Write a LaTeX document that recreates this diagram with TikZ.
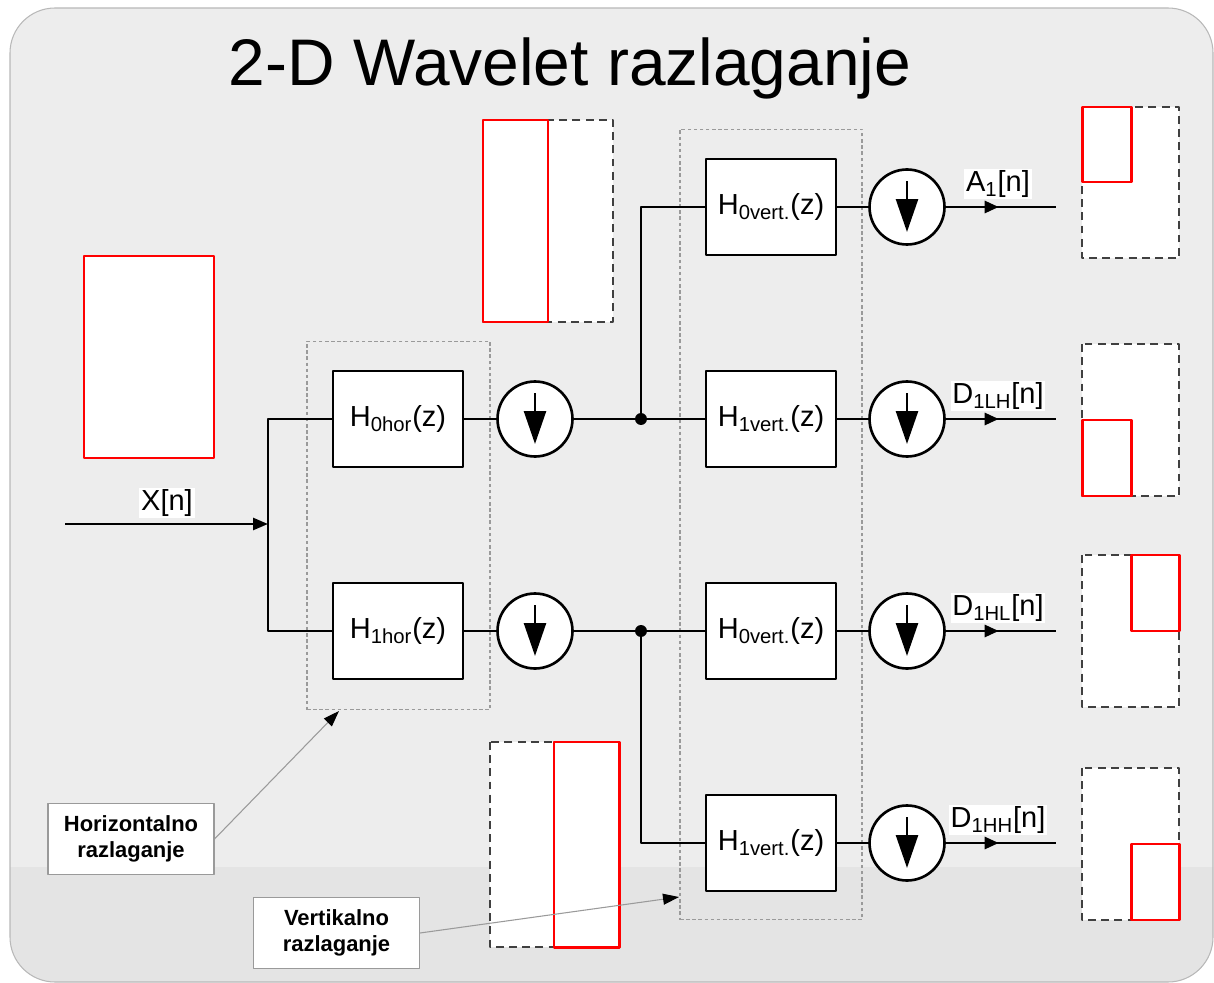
\documentclass[tikz,border=0pt]{standalone}
\usepackage{fontspec}
\setmainfont{Liberation Sans}
\usetikzlibrary{arrows.meta,decorations.markings}

\definecolor{panel}{HTML}{EDEDED}
\definecolor{panellow}{HTML}{E4E4E4}
\definecolor{rim}{HTML}{B8B8B8}
\definecolor{grpgray}{HTML}{9A9A9A}
\definecolor{dashgray}{HTML}{404040}

\begin{document}
\begin{tikzpicture}
	[
		x=0.02cm,
		y=-0.02cm,
		line join=round,
		sig/.style={line width=1.5pt},
		filt/.style={draw, line width=1.5pt, fill=white, minimum width=2.6cm, minimum height=1.92cm, font=\fontsize{16.5pt}{18pt}\selectfont},
		down/.style={draw, circle, line width=1.5pt, fill=white, minimum size=1.5cm,
			path picture={\draw[line width=1.5pt,-{Triangle[length=0.66cm,width=0.44cm]}] ([yshift=0.52cm]path picture bounding box.center) -- ([yshift=-0.5cm]path picture bounding box.center);}},
		grp/.style={draw=grpgray, dash pattern=on 2pt off 1.5pt, line width=0.6pt},
		lbl/.style={fill=white, inner sep=1pt, font=\fontsize{16.5pt}{18pt}\selectfont},
		note/.style={draw=grpgray, fill=white, line width=0.6pt, align=center, minimum width=3.32cm, minimum height=1.42cm, font=\fontsize{12.5pt}{15pt}\selectfont\bfseries},
		pointer/.style={draw=grpgray, line width=0.6pt, -{Triangle[length=0.32cm,width=0.22cm,color=black]}},
		imgdash/.style={draw=dashgray, dash pattern=on 4.5pt off 3pt, line width=1.4pt, fill=white},
		imgred/.style={draw=red, line width=1.7pt},
		midarr/.style={postaction={decorate}, decoration={markings, mark=at position 0.48 with {\arrow{Triangle[length=0.28cm,width=0.24cm]}}}}
	]
		\useasboundingbox (0,0) rectangle (1214,983);

		% panel
		\fill[panel] (10,8) [rounded corners=0.9cm] rectangle (1213,982);
		\begin{scope}
			\clip (10,8) [rounded corners=0.9cm] rectangle (1213,982);
			\fill[panellow] (0,867) rectangle (1214,983);
		\end{scope}
		\draw[rim, line width=0.6pt] (10,8) [rounded corners=0.9cm] rectangle (1213,982);

		\node[font=\fontsize{37.5pt}{40pt}\selectfont, anchor=base] (title) at (570,86) {2-D Wavelet razlaganje};

		% filter groups
		\node[grp, minimum width=3.66cm, minimum height=7.38cm] (grpH) at (398.5,525.5) {};
		\node[grp, minimum width=3.64cm, minimum height=15.82cm] (grpV) at (771,524.5) {};

		% input image
		\draw[imgred, fill=white] (84,256) rectangle (214,458);

		% filters
		\node[filt] (h0h) at (398,419) {H\textsubscript{0hor}(z)};
		\node[filt] (h1h) at (398,631) {H\textsubscript{1hor}(z)};
		\node[filt] (hv0a) at (771,207) {H\textsubscript{0vert.}(z)};
		\node[filt] (hv1a) at (771,419) {H\textsubscript{1vert.}(z)};
		\node[filt] (hv0b) at (771,631) {H\textsubscript{0vert.}(z)};
		\node[filt] (hv1b) at (771,843) {H\textsubscript{1vert.}(z)};

		% downsamplers
		\node[down] (dh0) at (535,419) {};
		\node[down] (dh1) at (535,631) {};
		\node[down] (dv0a) at (907,207) {};
		\node[down] (dv1a) at (907,419) {};
		\node[down] (dv0b) at (907,631) {};
		\node[down] (dv1b) at (907,843) {};

		% input and split
		\coordinate (xin) at (65,524);
		\coordinate (split) at (268,524);
		\draw[sig,-{Triangle[length=0.3cm,width=0.24cm]}] (xin) -- (split);
		\draw[sig] (h0h.west) -| (split) |- (h1h.west);
		\node[lbl] (xlbl) at (167,503) {X[n]};

		\draw[sig] (h0h) -- (dh0);
		\draw[sig] (h1h) -- (dh1);

		% branch points
		\coordinate (j0) at (641,419);
		\coordinate (j1) at (641,631);
		\draw[sig] (dh0) -- (hv1a);
		\draw[sig] (j0) |- (hv0a.west);
		\draw[sig] (dh1) -- (hv0b);
		\draw[sig] (j1) |- (hv1b.west);
		\fill (j0) circle (3.4pt);
		\fill (j1) circle (3.4pt);

		\draw[sig] (hv0a) -- (dv0a);
		\draw[sig] (hv1a) -- (dv1a);
		\draw[sig] (hv0b) -- (dv0b);
		\draw[sig] (hv1b) -- (dv1b);

		% outputs
		\coordinate (oa) at (1056,207);
		\coordinate (ob) at (1056,419);
		\coordinate (oc) at (1056,631);
		\coordinate (od) at (1056,843);
		\draw[sig,midarr] (dv0a) -- (oa);
		\draw[sig,midarr] (dv1a) -- (ob);
		\draw[sig,midarr] (dv0b) -- (oc);
		\draw[sig,midarr] (dv1b) -- (od);
		\node[lbl] (la) at (998,184) {A\textsubscript{1}[n]};
		\node[lbl] (lb) at (998,396) {D\textsubscript{1LH}[n]};
		\node[lbl] (lc) at (998,608) {D\textsubscript{1HL}[n]};
		\node[lbl] (ld) at (998,820) {D\textsubscript{1HH}[n]};

		% half images after the horizontal step
		\draw[imgdash] (483,120) rectangle (613,322);
		\draw[imgred] (483,120) rectangle (548,322);
		\draw[imgdash] (490,742) rectangle (619,947);
		\draw[imgred] (554,742) rectangle (619,947);

		% quarter images
		\draw[imgdash] (1082,107) rectangle (1179,258);
		\draw[imgred] (1082,107) rectangle (1131,182);
		\draw[imgdash] (1082,344) rectangle (1179,496);
		\draw[imgred] (1082,420) rectangle (1131,496);
		\draw[imgdash] (1082,555) rectangle (1179,707);
		\draw[imgred] (1131,555) rectangle (1179,631);
		\draw[imgdash] (1082,768) rectangle (1179,920);
		\draw[imgred] (1131,844) rectangle (1179,920);

		% notes
		\node[note] (noteH) at (131,839) {Horizontalno\\razlaganje};
		\node[note] (noteV) at (336.5,933) {Vertikalno\\razlaganje};
		\coordinate (tipH) at (339,711);
		\coordinate (tipV) at (679,897);
		\draw[pointer] (noteH.east) -- (tipH);
		\draw[pointer] (noteV.east) -- (tipV);
	\end{tikzpicture}
\end{document}
